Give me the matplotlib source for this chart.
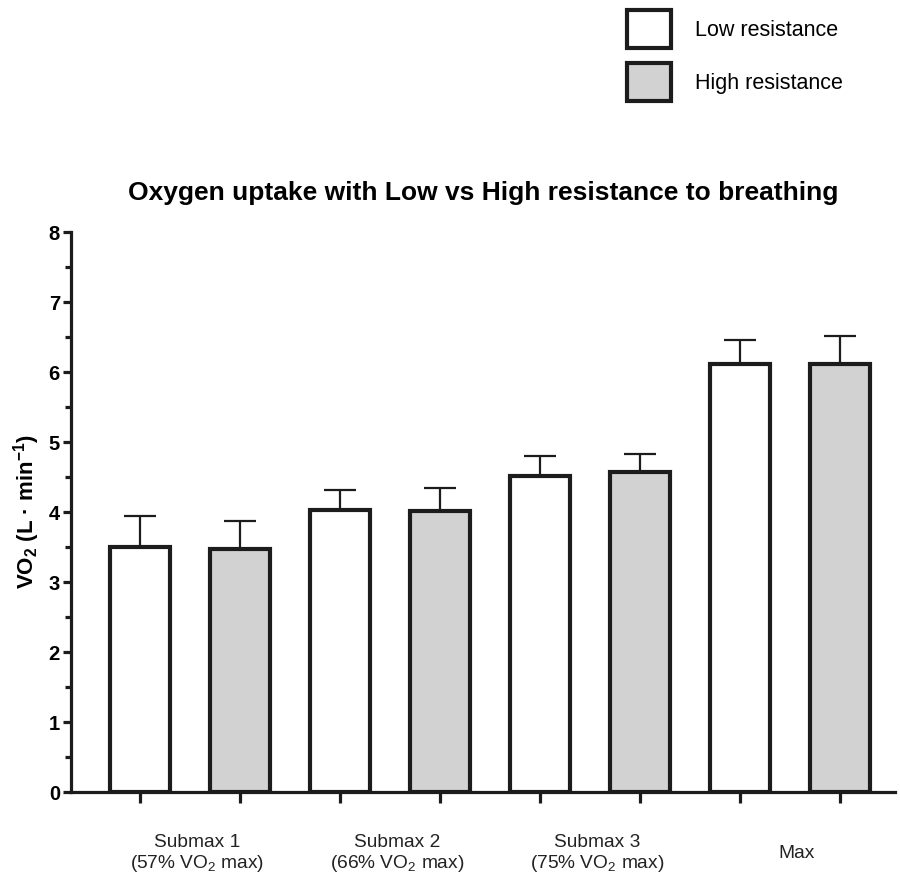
import matplotlib
matplotlib.use("Agg")
import matplotlib.pyplot as plt
import numpy as np
from matplotlib.patches import Patch
import matplotlib.transforms as mtransforms

plt.rcParams['font.family'] = ['Liberation Sans', 'DejaVu Sans']
plt.rcParams['mathtext.fontset'] = 'custom'
plt.rcParams['mathtext.rm'] = 'Liberation Sans'
plt.rcParams['mathtext.it'] = 'Liberation Sans'
plt.rcParams['mathtext.bf'] = 'Liberation Sans:bold'

groups = ['Submax 1\n(57% VO$_2$ max)', 'Submax 2\n(66% VO$_2$ max)',
          'Submax 3\n(75% VO$_2$ max)', 'Max']
low_mean = [3.50, 4.03, 4.51, 6.11]
low_sd = [0.44, 0.29, 0.29, 0.35]
high_mean = [3.47, 4.02, 4.57, 6.11]
high_sd = [0.40, 0.33, 0.26, 0.40]

edge = '#1c1c1c'
gray = '#d2d2d2'

fig = plt.figure(figsize=(9, 8.77), dpi=100)
ax = fig.add_axes([71/900, 85/877, 824/900, 560/877])

n = len(groups)
xl = np.arange(n) * 2
xh = xl + 1
w = 0.6

ax.errorbar(xl, low_mean, yerr=[np.zeros(n), low_sd], fmt='none', ecolor=edge,
            elinewidth=1.6, capsize=11.5, capthick=1.6, zorder=1)
ax.errorbar(xh, high_mean, yerr=[np.zeros(n), high_sd], fmt='none', ecolor=edge,
            elinewidth=1.6, capsize=11.5, capthick=1.6, zorder=1)
ax.bar(xl, low_mean, width=w, color='white', edgecolor=edge, linewidth=3, zorder=2)
ax.bar(xh, high_mean, width=w, color=gray, edgecolor=edge, linewidth=3, zorder=2)

ax.set_xlim(-0.69, 7.55)
ax.set_ylim(0, 8)
ax.spines['top'].set_visible(False)
ax.spines['right'].set_visible(False)
ax.spines['left'].set_linewidth(2.3)
ax.spines['bottom'].set_linewidth(2.3)
ax.spines['left'].set_color(edge)
ax.spines['bottom'].set_color(edge)

ax.set_xticks(np.arange(2 * n))
ax.set_xticklabels([])
ax.tick_params(axis='x', length=8, width=2.3, color=edge)
ax.set_yticks(np.arange(0, 9, 1))
ax.set_yticks(np.arange(0.5, 8, 1), minor=True)
ax.tick_params(axis='y', which='major', length=6, width=2.3, color=edge, labelsize=14.5, pad=2)
ax.tick_params(axis='y', which='minor', length=4, width=2.3, color=edge)
for lab in ax.get_yticklabels():
    lab.set_fontweight('bold')

trans = mtransforms.blended_transform_factory(ax.transData, ax.transAxes)
for i, g in enumerate(groups):
    ax.text(xl[i] + 0.57, -0.11, g, transform=trans, ha='center', va='center',
            fontsize=13.8, linespacing=1.12, color='#222222')

ax.set_ylabel('VO$_\\mathbf{2}$ (L · min$^\\mathbf{-1}$)', fontsize=16, fontweight='bold', labelpad=5)
ax.set_title('Oxygen uptake with Low vs High resistance to breathing',
             fontsize=19, fontweight='bold', pad=23)

handles = [Patch(facecolor='white', edgecolor=edge, linewidth=3, label='Low resistance'),
           Patch(facecolor=gray, edgecolor=edge, linewidth=3, label='High resistance')]
fig.legend(handles=handles, loc='upper left', bbox_to_anchor=(627/900, 1 - 10/877),
           frameon=False, fontsize=15.5, handlelength=2.05, handleheight=2.34,
           labelspacing=0.7, handletextpad=1.1, borderpad=0, borderaxespad=0)

fig.savefig('out.png', dpi=100)
